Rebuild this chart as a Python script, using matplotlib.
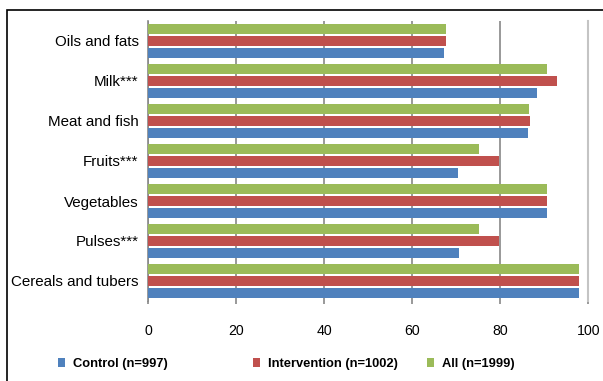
import matplotlib.pyplot as plt
import numpy as np
from matplotlib.patches import Rectangle

plt.rcParams['font.family'] = ['Liberation Sans', 'DejaVu Sans']

# food groups, listed bottom to top
categories = ['Cereals and tubers', 'Pulses***', 'Vegetables', 'Fruits***',
              'Meat and fish', 'Milk***', 'Oils and fats']
control = [97.9, 70.6, 90.7, 70.4, 86.3, 88.4, 67.2]
intervention = [97.9, 79.7, 90.7, 79.7, 86.8, 92.9, 67.7]
all_hh = [97.9, 75.2, 90.7, 75.2, 86.6, 90.7, 67.7]
series_labels = ['Control (n=997)', 'Intervention (n=1002)', 'All (n=1999)']
x_ticks = [0, 20, 40, 60, 80, 100]

colors = ['#4F81BD', '#C0504D', '#9BBB59']

fig = plt.figure(figsize=(6.03, 3.81), dpi=100)
ax = fig.add_axes([148.3 / 603, 1 - 301 / 381, 440 / 603, 280 / 381])

y = np.arange(len(categories))
h = 0.25
off = 0.29
bars = []
for vals, dy, c in zip([control, intervention, all_hh], [-off, 0, off], colors):
    bars.append(ax.barh(y + dy, vals, height=h, color=c, zorder=3))

ax.set_xlim(0, 100)
ax.set_ylim(-0.5, len(categories) - 0.5)
ax.set_yticks(y)
ax.set_yticklabels(categories, fontsize=10.9)
ax.set_xticks(x_ticks)
ax.set_xticklabels([str(t) for t in x_ticks], fontsize=10.2)

ax.tick_params(axis='y', length=0, pad=7)
ax.tick_params(axis='x', length=2.5, width=1.2, color='#888888', pad=14)

ax.grid(axis='x', color='#888888', linewidth=1.2, zorder=0)
for s in ['top', 'bottom']:
    ax.spines[s].set_visible(False)
ax.spines['left'].set_color('#888888')
ax.spines['left'].set_linewidth(1.2)
ax.spines['right'].set_color('#c4c4c4')
ax.spines['right'].set_linewidth(1.5)

# legend entries placed one by one along the bottom
leg_x = [57.7, 252.7, 426.7]
for b, lab, lx in zip(bars, series_labels, leg_x):
    leg = fig.legend([b], [lab], loc='center left',
                     bbox_to_anchor=(lx / 603, 1 - 364 / 381),
                     frameon=False, borderpad=0, borderaxespad=0,
                     handlelength=0.6, handleheight=0.6, handletextpad=0.55,
                     prop={'weight': 'bold', 'size': 9.3})

# outer frame
fig.patches.append(Rectangle((7 / 603, -0.1), 1.2, 1 - 10 / 381 + 0.1,
                             transform=fig.transFigure, fill=False,
                             edgecolor='black', linewidth=1.2))

fig.savefig('out.png', dpi=100)
